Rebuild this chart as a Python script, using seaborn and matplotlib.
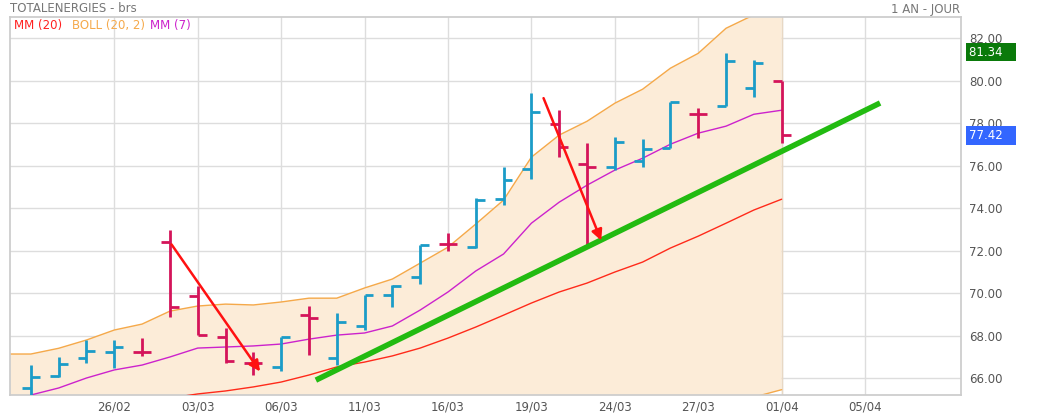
import matplotlib
matplotlib.use("Agg")
import matplotlib.pyplot as plt
import numpy as np
import seaborn as sns

sns.set_theme(style="white")
plt.rcParams["font.family"] = ["DejaVu Sans"]

# daily OHLC
opens = [65.53, 66.09, 66.94, 67.22, 67.22, 72.40, 69.86, 67.93, 66.71, 66.52, 68.96, 66.94, 68.45, 69.91,
         70.75, 72.31, 72.16, 74.42, 75.84, 77.95, 76.07, 75.93, 76.21, 76.82, 78.42, 78.80, 79.65, 80.00]
highs = [66.61, 66.99, 67.79, 67.79, 67.88, 72.96, 70.33, 68.35, 67.22, 67.93, 69.39, 69.06, 69.91, 70.38,
         72.26, 72.82, 74.47, 75.93, 79.41, 78.61, 77.06, 77.34, 77.25, 78.99, 78.71, 81.29, 80.96, 79.98]
lows = [65.20, 66.05, 66.71, 66.47, 67.04, 68.87, 68.02, 66.71, 66.14, 66.33, 67.08, 66.61, 68.26, 69.34,
        70.42, 71.98, 72.12, 74.14, 75.36, 76.40, 72.26, 75.79, 75.93, 76.82, 77.29, 78.80, 79.22, 77.06]
closes = [66.05, 66.66, 67.27, 67.46, 67.22, 69.34, 68.02, 66.80, 66.71, 67.93, 68.82, 68.64, 69.91, 70.33,
          72.26, 72.31, 74.38, 75.32, 78.52, 76.87, 75.93, 77.11, 76.78, 78.99, 78.42, 80.92, 80.82, 77.42]
boll_upper = [67.13, 67.40, 67.79, 68.26, 68.54, 69.15, 69.39, 69.48, 69.44, 69.58, 69.76, 69.76, 70.24, 70.66,
              71.41, 72.16, 73.25, 74.38, 76.40, 77.44, 78.09, 78.94, 79.60, 80.59, 81.29, 82.47, 83.10, 83.60]
boll_lower = [61.5, 61.8, 62.0, 62.2, 62.5, 62.6, 62.9, 63.1, 63.3, 63.5, 63.7, 63.9, 64.0, 64.1,
              64.2, 64.2, 64.1, 64.0, 63.9, 63.9, 64.0, 64.1, 64.3, 64.5, 64.7, 64.9, 65.1, 65.45]
mm7 = [65.20, 65.53, 66.00, 66.38, 66.61, 66.99, 67.41, 67.46, 67.51, 67.60, 67.83, 68.02, 68.12, 68.45,
       69.20, 70.05, 71.04, 71.84, 73.29, 74.28, 75.08, 75.79, 76.35, 77.01, 77.53, 77.86, 78.42, 78.61]
mm20 = [np.nan] * 5 + [65.05, 65.25, 65.39, 65.58, 65.81, 66.14, 66.52, 66.75, 67.04, 67.41, 67.88, 68.40, 68.96,
                       69.53, 70.05, 70.47, 70.99, 71.46, 72.12, 72.68, 73.29, 73.91, 74.42]
tick_pos = [3, 6, 9, 12, 15, 18, 21, 24, 27, 30]
tick_labels = ["26/02", "03/03", "06/03", "11/03", "16/03", "19/03", "24/03", "27/03", "01/04", "05/04"]
trend = ([10.25, 30.54], [65.9, 78.95])
arrows = [((5.0, 72.4), (8.3, 66.2)), ((18.4, 79.3), (20.55, 72.35))]

BLUE = "#1b9cc8"
RED = "#d4145a"
GRID = "#dddddd"

fig = plt.figure(figsize=(10.37, 4.15), dpi=100)
ax = fig.add_axes([10 / 1037, 1 - 395 / 415, 951 / 1037, 378 / 415])
x = np.arange(len(closes))

# Bollinger band area (extended to the left edge)
bx = np.concatenate([[-0.75], x])
bu = np.concatenate([[boll_upper[0]], boll_upper])
bl = np.concatenate([[boll_lower[0]], boll_lower])
ax.fill_between(bx, bl, bu, color="#fcecd8", zorder=1, linewidth=0)
ax.plot(bx, bu, color="#f5a94a", lw=1, zorder=2)
ax.plot(bx, bl, color="#f5a94a", lw=1, zorder=2)
ax.axvline(27, color="#e8d8c4", lw=1, zorder=1.5)
ax.plot(x, mm7, color="#cc22cc", lw=1, zorder=3)
ax.plot(x, mm20, color="#ff2a1a", lw=1, zorder=3)

for i in x:
    c = BLUE if closes[i] > opens[i] else RED
    ax.plot([i, i], [lows[i], highs[i]], color=c, lw=2, zorder=4, solid_capstyle="butt")
    ax.plot([i - 0.32, i], [opens[i], opens[i]], color=c, lw=2, zorder=4, solid_capstyle="butt")
    ax.plot([i, i + 0.32], [closes[i], closes[i]], color=c, lw=2, zorder=4, solid_capstyle="butt")

ax.plot(trend[0], trend[1], color="#22bb11", lw=4, zorder=5, solid_capstyle="butt")
for (x0, y0), (x1, y1) in arrows:
    ax.annotate("", xy=(x1, y1), xytext=(x0, y0), zorder=6,
                arrowprops=dict(arrowstyle="-|>", color="#ff1111", lw=1.8, mutation_scale=16))

ax.set_xlim(-0.75, 33.45)
ax.set_ylim(65.2, 83.0)
ax.set_xticks(tick_pos)
ax.set_xticklabels(tick_labels, fontsize=8.5, color="#555555")
yt = np.arange(66, 83, 2)
ax.set_yticks(yt)
ax.set_yticklabels([f"{v:.2f}" for v in yt], fontsize=8.5, color="#555555")
ax.yaxis.tick_right()
ax.tick_params(axis="y", length=0, pad=6)
ax.tick_params(axis="x", length=0, pad=4)
ax.grid(True, color=GRID, lw=1, zorder=0)
ax.set_axisbelow(True)
for s in ax.spines.values():
    s.set_color("#cccccc")

for val, col in [(81.34, "#0a7a0a"), (77.42, "#3366ff")]:
    ax.text(1.008, (val - 65.2) / 17.8, f"{val:.2f}   ", transform=ax.transAxes, fontsize=8.5, color="white",
            va="center", ha="left", bbox=dict(boxstyle="square,pad=0.22", fc=col, ec="none"))

fig.text(10 / 1037, 1 - 9 / 415, "TOTALENERGIES - brs", fontsize=8.5, color="#777777", va="center")
fig.text(1 - 77 / 1037, 1 - 9 / 415, "1 AN - JOUR", fontsize=8.5, color="#777777", va="center", ha="right")
fig.text(14 / 1037, 1 - 26 / 415, "MM (20)", fontsize=8.5, color="#ff2020", va="center")
fig.text(72 / 1037, 1 - 26 / 415, "BOLL (20, 2)", fontsize=8.5, color="#f5a94a", va="center")
fig.text(150 / 1037, 1 - 26 / 415, "MM (7)", fontsize=8.5, color="#cc22cc", va="center")

fig.savefig("out.png", dpi=100)
